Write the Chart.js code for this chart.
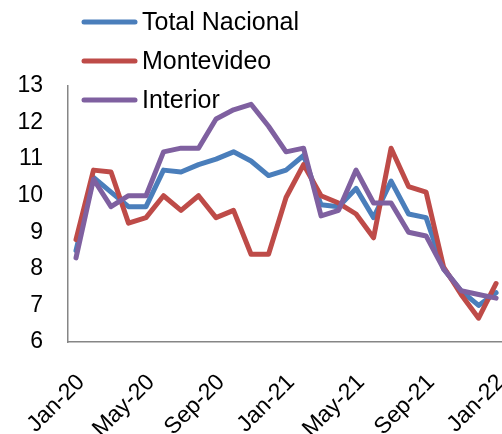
<!DOCTYPE html>
<html>
<head>
<meta charset="utf-8">
<script src="https://cdn.jsdelivr.net/npm/chart.js@4.4.1/dist/chart.umd.min.js"></script>
<style>
  html, body { margin: 0; padding: 0; background: #fff; }
  #wrap { width: 502px; height: 434px; }
</style>
</head>
<body>
<div id="wrap"><canvas id="grafico"></canvas></div>
<script>
// meses, de Jan-20 a Jan-22
const meses = [
  "Jan-20", "Feb-20", "Mar-20", "Apr-20", "May-20", "Jun-20", "Jul-20", "Aug-20",
  "Sep-20", "Oct-20", "Nov-20", "Dec-20", "Jan-21", "Feb-21", "Mar-21", "Apr-21",
  "May-21", "Jun-21", "Jul-21", "Aug-21", "Sep-21", "Oct-21", "Nov-21", "Dec-21", "Jan-22"
];

const totalNacional = [8.5, 10.5, 10.1, 9.7, 9.7, 10.7, 10.65, 10.85, 11.0, 11.2, 10.95, 10.55, 10.7,
  11.1, 9.75, 9.7, 10.2, 9.4, 10.4, 9.5, 9.4, 8.0, 7.4, 7.0, 7.35];
const montevideo = [8.8, 10.7, 10.65, 9.25, 9.4, 10.0, 9.6, 10.0, 9.4, 9.6, 8.4, 8.4, 9.95,
  10.85, 10.0, 9.8, 9.5, 8.85, 11.3, 10.25, 10.1, 8.05, 7.3, 6.65, 7.6];
const interior = [8.3, 10.45, 9.7, 10.0, 10.0, 11.2, 11.3, 11.3, 12.1, 12.35, 12.5, 11.9, 11.2,
  11.3, 9.45, 9.6, 10.7, 9.8, 9.8, 9.0, 8.9, 8.0, 7.4, 7.3, 7.2];

const ticksX = [0, 4, 8, 12, 16, 20, 24]; // um rótulo a cada 4 meses
const ticksY = [6, 7, 8, 9, 10, 11, 12, 13];

const fonte = "'Liberation Sans', Arial, sans-serif";

// transforma a série em pontos {x, y} pelo índice do mês
function pontos(valores) {
  return valores.map((v, i) => ({ x: i, y: v }));
}

function serie(label, valores, cor, ordem) {
  return {
    label,
    data: pontos(valores),
    borderColor: cor,
    backgroundColor: cor,
    borderWidth: 5,
    borderJoinStyle: "round",
    borderCapStyle: "round",
    pointRadius: 0,
    tension: 0,
    order: ordem
  };
}

// legenda vertical desenhada por cima do gráfico
const legendaVertical = {
  id: "legendaVertical",
  afterDraw(chart) {
    const ctx = chart.ctx;
    ctx.save();
    ctx.font = "25px " + fonte;
    ctx.textBaseline = "middle";
    ctx.fillStyle = "#000";
    chart.data.datasets.forEach((ds, i) => {
      const y = 22 + i * 39;
      ctx.strokeStyle = ds.borderColor;
      ctx.lineWidth = 5;
      ctx.lineCap = "round";
      ctx.beginPath();
      ctx.moveTo(84, y);
      ctx.lineTo(135, y);
      ctx.stroke();
      ctx.fillText(ds.label, 142, y + 1);
    });
    ctx.restore();
  }
};

new Chart(document.getElementById("grafico"), {
  type: "line",
  data: {
    datasets: [
      serie("Total Nacional", totalNacional, "#4A7EBB", 2),
      serie("Montevideo", montevideo, "#BE4B48", 1),
      serie("Interior", interior, "#7F60A0", 0)
    ]
  },
  options: {
    responsive: true,
    maintainAspectRatio: false,
    animation: false,
    layout: { padding: { top: 86, right: 1, left: 0, bottom: 0 } },
    plugins: {
      legend: { display: false },
      tooltip: { enabled: false }
    },
    scales: {
      x: {
        type: "linear",
        min: -0.457,
        max: 24.28,
        afterBuildTicks(scale) {
          scale.ticks = ticksX.map(v => ({ value: v }));
        },
        afterFit(scale) {
          scale.height = 92;
          // sem reserva extra para os rótulos inclinados
          scale.paddingLeft = 0;
          scale.paddingRight = 0;
        },
        grid: { display: false, drawTicks: false },
        border: { display: true, color: "#868686", width: 1.5 },
        ticks: {
          autoSkip: false,
          minRotation: 45,
          maxRotation: 45,
          padding: 27,
          labelOffset: 5,
          color: "#000",
          font: { family: fonte, size: 23 },
          callback: (v) => meses[v]
        }
      },
      y: {
        min: 6,
        max: 13,
        afterBuildTicks(scale) {
          scale.ticks = ticksY.map(v => ({ value: v }));
        },
        afterFit(scale) {
          scale.width = 68;
          scale.paddingTop = 0;
          scale.paddingBottom = 0;
        },
        grid: { display: false, drawTicks: false },
        border: { display: true, color: "#868686", width: 1.5 },
        ticks: {
          padding: 25,
          color: "#000",
          font: { family: fonte, size: 23 }
        }
      }
    }
  },
  plugins: [legendaVertical]
});
</script>
</body>
</html>
